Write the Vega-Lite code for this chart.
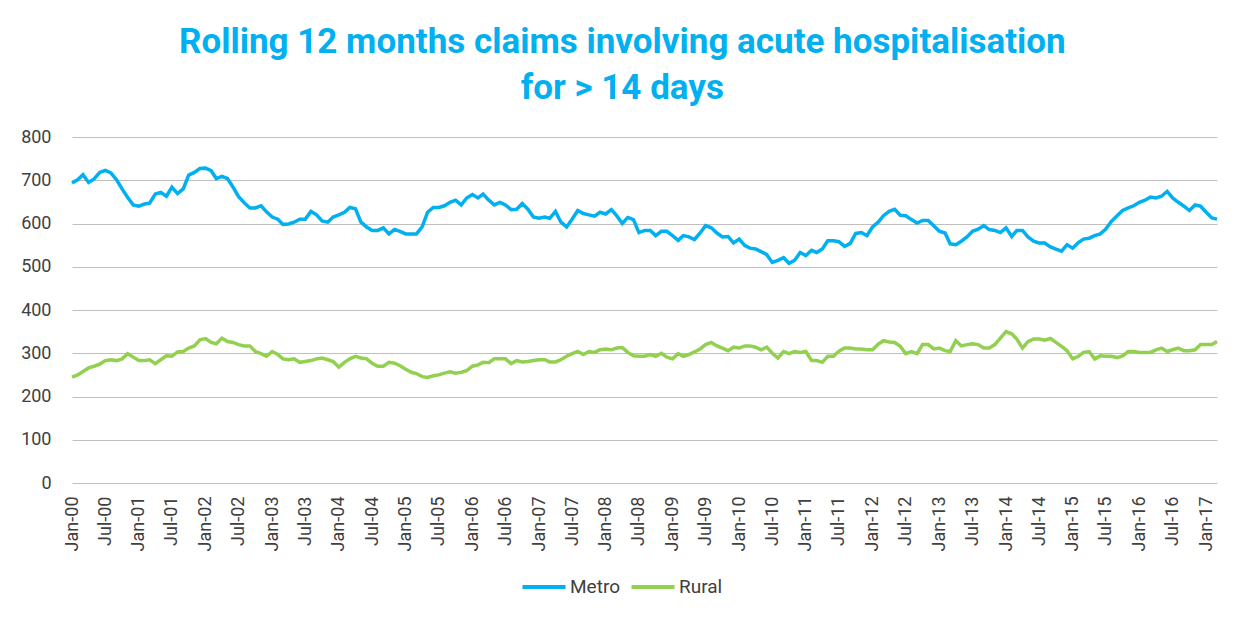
{
"$schema": "https://vega.github.io/schema/vega-lite/v6.json",
"width": 1145,
"height": 346,
"autosize": {"type": "none"},
"padding": {"left": 72, "top": 137, "right": 24, "bottom": 136},
"background": "white",
"title": {"text": ["Rolling 12 months claims involving acute hospitalisation", "for > 14 days"], "font": "Roboto", "fontSize": 35, "fontWeight": "bold", "color": "#00B0F0", "lineHeight": 46, "anchor": "middle", "frame": "bounds", "offset": 22},
"datasets": {
"metro": [
{"date":"2000-01-01","series":"Metro","value":694},{"date":"2000-02-01","series":"Metro","value":701},{"date":"2000-03-01","series":"Metro","value":713},{"date":"2000-04-01","series":"Metro","value":695},{"date":"2000-05-01","series":"Metro","value":703},{"date":"2000-06-01","series":"Metro","value":718},{"date":"2000-07-01","series":"Metro","value":723},{"date":"2000-08-01","series":"Metro","value":717},{"date":"2000-09-01","series":"Metro","value":701},{"date":"2000-10-01","series":"Metro","value":680},{"date":"2000-11-01","series":"Metro","value":660},{"date":"2000-12-01","series":"Metro","value":643},
{"date":"2001-01-01","series":"Metro","value":640},{"date":"2001-02-01","series":"Metro","value":645},{"date":"2001-03-01","series":"Metro","value":647},{"date":"2001-04-01","series":"Metro","value":668},{"date":"2001-05-01","series":"Metro","value":672},{"date":"2001-06-01","series":"Metro","value":663},{"date":"2001-07-01","series":"Metro","value":684},{"date":"2001-08-01","series":"Metro","value":669},{"date":"2001-09-01","series":"Metro","value":680},{"date":"2001-10-01","series":"Metro","value":712},{"date":"2001-11-01","series":"Metro","value":718},{"date":"2001-12-01","series":"Metro","value":727},
{"date":"2002-01-01","series":"Metro","value":728},{"date":"2002-02-01","series":"Metro","value":722},{"date":"2002-03-01","series":"Metro","value":704},{"date":"2002-04-01","series":"Metro","value":709},{"date":"2002-05-01","series":"Metro","value":704},{"date":"2002-06-01","series":"Metro","value":684},{"date":"2002-07-01","series":"Metro","value":662},{"date":"2002-08-01","series":"Metro","value":648},{"date":"2002-09-01","series":"Metro","value":636},{"date":"2002-10-01","series":"Metro","value":636},{"date":"2002-11-01","series":"Metro","value":641},{"date":"2002-12-01","series":"Metro","value":627},
{"date":"2003-01-01","series":"Metro","value":615},{"date":"2003-02-01","series":"Metro","value":610},{"date":"2003-03-01","series":"Metro","value":598},{"date":"2003-04-01","series":"Metro","value":599},{"date":"2003-05-01","series":"Metro","value":603},{"date":"2003-06-01","series":"Metro","value":610},{"date":"2003-07-01","series":"Metro","value":610},{"date":"2003-08-01","series":"Metro","value":628},{"date":"2003-09-01","series":"Metro","value":620},{"date":"2003-10-01","series":"Metro","value":606},{"date":"2003-11-01","series":"Metro","value":603},{"date":"2003-12-01","series":"Metro","value":615},
{"date":"2004-01-01","series":"Metro","value":620},{"date":"2004-02-01","series":"Metro","value":626},{"date":"2004-03-01","series":"Metro","value":637},{"date":"2004-04-01","series":"Metro","value":634},{"date":"2004-05-01","series":"Metro","value":603},{"date":"2004-06-01","series":"Metro","value":592},{"date":"2004-07-01","series":"Metro","value":584},{"date":"2004-08-01","series":"Metro","value":584},{"date":"2004-09-01","series":"Metro","value":590},{"date":"2004-10-01","series":"Metro","value":576},{"date":"2004-11-01","series":"Metro","value":586},{"date":"2004-12-01","series":"Metro","value":582},
{"date":"2005-01-01","series":"Metro","value":576},{"date":"2005-02-01","series":"Metro","value":576},{"date":"2005-03-01","series":"Metro","value":576},{"date":"2005-04-01","series":"Metro","value":592},{"date":"2005-05-01","series":"Metro","value":626},{"date":"2005-06-01","series":"Metro","value":637},{"date":"2005-07-01","series":"Metro","value":637},{"date":"2005-08-01","series":"Metro","value":641},{"date":"2005-09-01","series":"Metro","value":649},{"date":"2005-10-01","series":"Metro","value":654},{"date":"2005-11-01","series":"Metro","value":643},{"date":"2005-12-01","series":"Metro","value":659},
{"date":"2006-01-01","series":"Metro","value":667},{"date":"2006-02-01","series":"Metro","value":659},{"date":"2006-03-01","series":"Metro","value":668},{"date":"2006-04-01","series":"Metro","value":654},{"date":"2006-05-01","series":"Metro","value":643},{"date":"2006-06-01","series":"Metro","value":649},{"date":"2006-07-01","series":"Metro","value":643},{"date":"2006-08-01","series":"Metro","value":632},{"date":"2006-09-01","series":"Metro","value":633},{"date":"2006-10-01","series":"Metro","value":646},{"date":"2006-11-01","series":"Metro","value":633},{"date":"2006-12-01","series":"Metro","value":615},
{"date":"2007-01-01","series":"Metro","value":612},{"date":"2007-02-01","series":"Metro","value":615},{"date":"2007-03-01","series":"Metro","value":612},{"date":"2007-04-01","series":"Metro","value":628},{"date":"2007-05-01","series":"Metro","value":603},{"date":"2007-06-01","series":"Metro","value":592},{"date":"2007-07-01","series":"Metro","value":610},{"date":"2007-08-01","series":"Metro","value":630},{"date":"2007-09-01","series":"Metro","value":623},{"date":"2007-10-01","series":"Metro","value":620},{"date":"2007-11-01","series":"Metro","value":617},{"date":"2007-12-01","series":"Metro","value":626},
{"date":"2008-01-01","series":"Metro","value":622},{"date":"2008-02-01","series":"Metro","value":632},{"date":"2008-03-01","series":"Metro","value":618},{"date":"2008-04-01","series":"Metro","value":600},{"date":"2008-05-01","series":"Metro","value":614},{"date":"2008-06-01","series":"Metro","value":609},{"date":"2008-07-01","series":"Metro","value":579},{"date":"2008-08-01","series":"Metro","value":584},{"date":"2008-09-01","series":"Metro","value":584},{"date":"2008-10-01","series":"Metro","value":572},{"date":"2008-11-01","series":"Metro","value":582},{"date":"2008-12-01","series":"Metro","value":582},
{"date":"2009-01-01","series":"Metro","value":572},{"date":"2009-02-01","series":"Metro","value":561},{"date":"2009-03-01","series":"Metro","value":572},{"date":"2009-04-01","series":"Metro","value":569},{"date":"2009-05-01","series":"Metro","value":563},{"date":"2009-06-01","series":"Metro","value":578},{"date":"2009-07-01","series":"Metro","value":595},{"date":"2009-08-01","series":"Metro","value":590},{"date":"2009-09-01","series":"Metro","value":578},{"date":"2009-10-01","series":"Metro","value":569},{"date":"2009-11-01","series":"Metro","value":570},{"date":"2009-12-01","series":"Metro","value":555},
{"date":"2010-01-01","series":"Metro","value":564},{"date":"2010-02-01","series":"Metro","value":549},{"date":"2010-03-01","series":"Metro","value":543},{"date":"2010-04-01","series":"Metro","value":541},{"date":"2010-05-01","series":"Metro","value":535},{"date":"2010-06-01","series":"Metro","value":528},{"date":"2010-07-01","series":"Metro","value":510},{"date":"2010-08-01","series":"Metro","value":515},{"date":"2010-09-01","series":"Metro","value":521},{"date":"2010-10-01","series":"Metro","value":508},{"date":"2010-11-01","series":"Metro","value":515},{"date":"2010-12-01","series":"Metro","value":533},
{"date":"2011-01-01","series":"Metro","value":526},{"date":"2011-02-01","series":"Metro","value":538},{"date":"2011-03-01","series":"Metro","value":533},{"date":"2011-04-01","series":"Metro","value":541},{"date":"2011-05-01","series":"Metro","value":560},{"date":"2011-06-01","series":"Metro","value":560},{"date":"2011-07-01","series":"Metro","value":558},{"date":"2011-08-01","series":"Metro","value":547},{"date":"2011-09-01","series":"Metro","value":554},{"date":"2011-10-01","series":"Metro","value":577},{"date":"2011-11-01","series":"Metro","value":579},{"date":"2011-12-01","series":"Metro","value":572},
{"date":"2012-01-01","series":"Metro","value":592},{"date":"2012-02-01","series":"Metro","value":603},{"date":"2012-03-01","series":"Metro","value":618},{"date":"2012-04-01","series":"Metro","value":628},{"date":"2012-05-01","series":"Metro","value":633},{"date":"2012-06-01","series":"Metro","value":619},{"date":"2012-07-01","series":"Metro","value":618},{"date":"2012-08-01","series":"Metro","value":609},{"date":"2012-09-01","series":"Metro","value":601},{"date":"2012-10-01","series":"Metro","value":607},{"date":"2012-11-01","series":"Metro","value":607},{"date":"2012-12-01","series":"Metro","value":595},
{"date":"2013-01-01","series":"Metro","value":582},{"date":"2013-02-01","series":"Metro","value":578},{"date":"2013-03-01","series":"Metro","value":553},{"date":"2013-04-01","series":"Metro","value":551},{"date":"2013-05-01","series":"Metro","value":559},{"date":"2013-06-01","series":"Metro","value":569},{"date":"2013-07-01","series":"Metro","value":582},{"date":"2013-08-01","series":"Metro","value":587},{"date":"2013-09-01","series":"Metro","value":595},{"date":"2013-10-01","series":"Metro","value":586},{"date":"2013-11-01","series":"Metro","value":584},{"date":"2013-12-01","series":"Metro","value":579},
{"date":"2014-01-01","series":"Metro","value":590},{"date":"2014-02-01","series":"Metro","value":570},{"date":"2014-03-01","series":"Metro","value":584},{"date":"2014-04-01","series":"Metro","value":584},{"date":"2014-05-01","series":"Metro","value":569},{"date":"2014-06-01","series":"Metro","value":559},{"date":"2014-07-01","series":"Metro","value":555},{"date":"2014-08-01","series":"Metro","value":555},{"date":"2014-09-01","series":"Metro","value":546},{"date":"2014-10-01","series":"Metro","value":541},{"date":"2014-11-01","series":"Metro","value":536},{"date":"2014-12-01","series":"Metro","value":551},
{"date":"2015-01-01","series":"Metro","value":543},{"date":"2015-02-01","series":"Metro","value":556},{"date":"2015-03-01","series":"Metro","value":564},{"date":"2015-04-01","series":"Metro","value":566},{"date":"2015-05-01","series":"Metro","value":572},{"date":"2015-06-01","series":"Metro","value":576},{"date":"2015-07-01","series":"Metro","value":587},{"date":"2015-08-01","series":"Metro","value":605},{"date":"2015-09-01","series":"Metro","value":618},{"date":"2015-10-01","series":"Metro","value":630},{"date":"2015-11-01","series":"Metro","value":636},{"date":"2015-12-01","series":"Metro","value":641},
{"date":"2016-01-01","series":"Metro","value":649},{"date":"2016-02-01","series":"Metro","value":654},{"date":"2016-03-01","series":"Metro","value":661},{"date":"2016-04-01","series":"Metro","value":659},{"date":"2016-05-01","series":"Metro","value":663},{"date":"2016-06-01","series":"Metro","value":674},{"date":"2016-07-01","series":"Metro","value":659},{"date":"2016-08-01","series":"Metro","value":649},{"date":"2016-09-01","series":"Metro","value":640},{"date":"2016-10-01","series":"Metro","value":630},{"date":"2016-11-01","series":"Metro","value":643},{"date":"2016-12-01","series":"Metro","value":640},
{"date":"2017-01-01","series":"Metro","value":626},{"date":"2017-02-01","series":"Metro","value":613},{"date":"2017-03-01","series":"Metro","value":610}
],
"rural": [
{"date":"2000-01-01","series":"Rural","value":245},{"date":"2000-02-01","series":"Rural","value":250},{"date":"2000-03-01","series":"Rural","value":258},{"date":"2000-04-01","series":"Rural","value":266},{"date":"2000-05-01","series":"Rural","value":270},{"date":"2000-06-01","series":"Rural","value":275},{"date":"2000-07-01","series":"Rural","value":283},{"date":"2000-08-01","series":"Rural","value":285},{"date":"2000-09-01","series":"Rural","value":283},{"date":"2000-10-01","series":"Rural","value":287},{"date":"2000-11-01","series":"Rural","value":299},{"date":"2000-12-01","series":"Rural","value":291},
{"date":"2001-01-01","series":"Rural","value":283},{"date":"2001-02-01","series":"Rural","value":283},{"date":"2001-03-01","series":"Rural","value":285},{"date":"2001-04-01","series":"Rural","value":276},{"date":"2001-05-01","series":"Rural","value":285},{"date":"2001-06-01","series":"Rural","value":294},{"date":"2001-07-01","series":"Rural","value":293},{"date":"2001-08-01","series":"Rural","value":303},{"date":"2001-09-01","series":"Rural","value":304},{"date":"2001-10-01","series":"Rural","value":312},{"date":"2001-11-01","series":"Rural","value":317},{"date":"2001-12-01","series":"Rural","value":331},
{"date":"2002-01-01","series":"Rural","value":334},{"date":"2002-02-01","series":"Rural","value":325},{"date":"2002-03-01","series":"Rural","value":322},{"date":"2002-04-01","series":"Rural","value":335},{"date":"2002-05-01","series":"Rural","value":327},{"date":"2002-06-01","series":"Rural","value":325},{"date":"2002-07-01","series":"Rural","value":320},{"date":"2002-08-01","series":"Rural","value":317},{"date":"2002-09-01","series":"Rural","value":317},{"date":"2002-10-01","series":"Rural","value":304},{"date":"2002-11-01","series":"Rural","value":299},{"date":"2002-12-01","series":"Rural","value":293},
{"date":"2003-01-01","series":"Rural","value":304},{"date":"2003-02-01","series":"Rural","value":297},{"date":"2003-03-01","series":"Rural","value":287},{"date":"2003-04-01","series":"Rural","value":285},{"date":"2003-05-01","series":"Rural","value":287},{"date":"2003-06-01","series":"Rural","value":279},{"date":"2003-07-01","series":"Rural","value":281},{"date":"2003-08-01","series":"Rural","value":283},{"date":"2003-09-01","series":"Rural","value":287},{"date":"2003-10-01","series":"Rural","value":289},{"date":"2003-11-01","series":"Rural","value":285},{"date":"2003-12-01","series":"Rural","value":281},
{"date":"2004-01-01","series":"Rural","value":268},{"date":"2004-02-01","series":"Rural","value":279},{"date":"2004-03-01","series":"Rural","value":287},{"date":"2004-04-01","series":"Rural","value":293},{"date":"2004-05-01","series":"Rural","value":289},{"date":"2004-06-01","series":"Rural","value":287},{"date":"2004-07-01","series":"Rural","value":277},{"date":"2004-08-01","series":"Rural","value":270},{"date":"2004-09-01","series":"Rural","value":270},{"date":"2004-10-01","series":"Rural","value":279},{"date":"2004-11-01","series":"Rural","value":277},{"date":"2004-12-01","series":"Rural","value":271},
{"date":"2005-01-01","series":"Rural","value":263},{"date":"2005-02-01","series":"Rural","value":256},{"date":"2005-03-01","series":"Rural","value":253},{"date":"2005-04-01","series":"Rural","value":246},{"date":"2005-05-01","series":"Rural","value":244},{"date":"2005-06-01","series":"Rural","value":248},{"date":"2005-07-01","series":"Rural","value":250},{"date":"2005-08-01","series":"Rural","value":254},{"date":"2005-09-01","series":"Rural","value":257},{"date":"2005-10-01","series":"Rural","value":254},{"date":"2005-11-01","series":"Rural","value":256},{"date":"2005-12-01","series":"Rural","value":260},
{"date":"2006-01-01","series":"Rural","value":270},{"date":"2006-02-01","series":"Rural","value":273},{"date":"2006-03-01","series":"Rural","value":279},{"date":"2006-04-01","series":"Rural","value":278},{"date":"2006-05-01","series":"Rural","value":287},{"date":"2006-06-01","series":"Rural","value":287},{"date":"2006-07-01","series":"Rural","value":287},{"date":"2006-08-01","series":"Rural","value":276},{"date":"2006-09-01","series":"Rural","value":283},{"date":"2006-10-01","series":"Rural","value":280},{"date":"2006-11-01","series":"Rural","value":281},{"date":"2006-12-01","series":"Rural","value":283},
{"date":"2007-01-01","series":"Rural","value":285},{"date":"2007-02-01","series":"Rural","value":285},{"date":"2007-03-01","series":"Rural","value":280},{"date":"2007-04-01","series":"Rural","value":280},{"date":"2007-05-01","series":"Rural","value":285},{"date":"2007-06-01","series":"Rural","value":293},{"date":"2007-07-01","series":"Rural","value":299},{"date":"2007-08-01","series":"Rural","value":304},{"date":"2007-09-01","series":"Rural","value":297},{"date":"2007-10-01","series":"Rural","value":304},{"date":"2007-11-01","series":"Rural","value":302},{"date":"2007-12-01","series":"Rural","value":308},
{"date":"2008-01-01","series":"Rural","value":310},{"date":"2008-02-01","series":"Rural","value":308},{"date":"2008-03-01","series":"Rural","value":312},{"date":"2008-04-01","series":"Rural","value":313},{"date":"2008-05-01","series":"Rural","value":302},{"date":"2008-06-01","series":"Rural","value":294},{"date":"2008-07-01","series":"Rural","value":293},{"date":"2008-08-01","series":"Rural","value":293},{"date":"2008-09-01","series":"Rural","value":297},{"date":"2008-10-01","series":"Rural","value":293},{"date":"2008-11-01","series":"Rural","value":300},{"date":"2008-12-01","series":"Rural","value":291},
{"date":"2009-01-01","series":"Rural","value":287},{"date":"2009-02-01","series":"Rural","value":299},{"date":"2009-03-01","series":"Rural","value":293},{"date":"2009-04-01","series":"Rural","value":297},{"date":"2009-05-01","series":"Rural","value":303},{"date":"2009-06-01","series":"Rural","value":310},{"date":"2009-07-01","series":"Rural","value":320},{"date":"2009-08-01","series":"Rural","value":325},{"date":"2009-09-01","series":"Rural","value":317},{"date":"2009-10-01","series":"Rural","value":312},{"date":"2009-11-01","series":"Rural","value":306},{"date":"2009-12-01","series":"Rural","value":314},
{"date":"2010-01-01","series":"Rural","value":312},{"date":"2010-02-01","series":"Rural","value":317},{"date":"2010-03-01","series":"Rural","value":317},{"date":"2010-04-01","series":"Rural","value":314},{"date":"2010-05-01","series":"Rural","value":308},{"date":"2010-06-01","series":"Rural","value":314},{"date":"2010-07-01","series":"Rural","value":300},{"date":"2010-08-01","series":"Rural","value":289},{"date":"2010-09-01","series":"Rural","value":304},{"date":"2010-10-01","series":"Rural","value":299},{"date":"2010-11-01","series":"Rural","value":304},{"date":"2010-12-01","series":"Rural","value":302},
{"date":"2011-01-01","series":"Rural","value":304},{"date":"2011-02-01","series":"Rural","value":283},{"date":"2011-03-01","series":"Rural","value":283},{"date":"2011-04-01","series":"Rural","value":279},{"date":"2011-05-01","series":"Rural","value":293},{"date":"2011-06-01","series":"Rural","value":293},{"date":"2011-07-01","series":"Rural","value":305},{"date":"2011-08-01","series":"Rural","value":312},{"date":"2011-09-01","series":"Rural","value":312},{"date":"2011-10-01","series":"Rural","value":310},{"date":"2011-11-01","series":"Rural","value":310},{"date":"2011-12-01","series":"Rural","value":308},
{"date":"2012-01-01","series":"Rural","value":308},{"date":"2012-02-01","series":"Rural","value":321},{"date":"2012-03-01","series":"Rural","value":329},{"date":"2012-04-01","series":"Rural","value":326},{"date":"2012-05-01","series":"Rural","value":325},{"date":"2012-06-01","series":"Rural","value":316},{"date":"2012-07-01","series":"Rural","value":299},{"date":"2012-08-01","series":"Rural","value":304},{"date":"2012-09-01","series":"Rural","value":299},{"date":"2012-10-01","series":"Rural","value":320},{"date":"2012-11-01","series":"Rural","value":320},{"date":"2012-12-01","series":"Rural","value":310},
{"date":"2013-01-01","series":"Rural","value":312},{"date":"2013-02-01","series":"Rural","value":306},{"date":"2013-03-01","series":"Rural","value":304},{"date":"2013-04-01","series":"Rural","value":329},{"date":"2013-05-01","series":"Rural","value":317},{"date":"2013-06-01","series":"Rural","value":320},{"date":"2013-07-01","series":"Rural","value":322},{"date":"2013-08-01","series":"Rural","value":320},{"date":"2013-09-01","series":"Rural","value":312},{"date":"2013-10-01","series":"Rural","value":312},{"date":"2013-11-01","series":"Rural","value":320},{"date":"2013-12-01","series":"Rural","value":335},
{"date":"2014-01-01","series":"Rural","value":350},{"date":"2014-02-01","series":"Rural","value":345},{"date":"2014-03-01","series":"Rural","value":333},{"date":"2014-04-01","series":"Rural","value":312},{"date":"2014-05-01","series":"Rural","value":327},{"date":"2014-06-01","series":"Rural","value":333},{"date":"2014-07-01","series":"Rural","value":333},{"date":"2014-08-01","series":"Rural","value":330},{"date":"2014-09-01","series":"Rural","value":334},{"date":"2014-10-01","series":"Rural","value":325},{"date":"2014-11-01","series":"Rural","value":316},{"date":"2014-12-01","series":"Rural","value":306},
{"date":"2015-01-01","series":"Rural","value":287},{"date":"2015-02-01","series":"Rural","value":293},{"date":"2015-03-01","series":"Rural","value":302},{"date":"2015-04-01","series":"Rural","value":304},{"date":"2015-05-01","series":"Rural","value":287},{"date":"2015-06-01","series":"Rural","value":294},{"date":"2015-07-01","series":"Rural","value":293},{"date":"2015-08-01","series":"Rural","value":293},{"date":"2015-09-01","series":"Rural","value":290},{"date":"2015-10-01","series":"Rural","value":294},{"date":"2015-11-01","series":"Rural","value":304},{"date":"2015-12-01","series":"Rural","value":304},
{"date":"2016-01-01","series":"Rural","value":302},{"date":"2016-02-01","series":"Rural","value":302},{"date":"2016-03-01","series":"Rural","value":302},{"date":"2016-04-01","series":"Rural","value":308},{"date":"2016-05-01","series":"Rural","value":312},{"date":"2016-06-01","series":"Rural","value":304},{"date":"2016-07-01","series":"Rural","value":308},{"date":"2016-08-01","series":"Rural","value":312},{"date":"2016-09-01","series":"Rural","value":306},{"date":"2016-10-01","series":"Rural","value":306},{"date":"2016-11-01","series":"Rural","value":308},{"date":"2016-12-01","series":"Rural","value":320},
{"date":"2017-01-01","series":"Rural","value":320},{"date":"2017-02-01","series":"Rural","value":320},{"date":"2017-03-01","series":"Rural","value":327}
]
},
"layer": [
{"data": {"name": "metro"}, "mark": {"type": "line", "strokeWidth": 3.5}, "encoding": {}},
{"data": {"name": "rural"}, "mark": {"type": "line", "strokeWidth": 3.5}, "encoding": {}}
],
"encoding": {
"x": {"field": "date", "type": "temporal", "scale": {"type": "utc", "domain": [{"year": 2000, "month": 1, "date": 1, "utc": true}, {"year": 2017, "month": 3, "date": 1, "utc": true}]}, "axis": {"title": null, "labelExpr": "utcFormat(datum.value, '%b-%y')", "tickCount": {"interval": "month", "step": 6}, "labelAngle": 270, "labelFont": "Roboto", "labelFontSize": 18, "labelColor": "#404040", "labelPadding": 13, "ticks": false, "tickSize": 0, "domain": false, "grid": false, "labelOverlap": false, "labelFlush": false}},
"y": {"field": "value", "type": "quantitative", "scale": {"domain": [0, 800], "nice": false}, "axis": {"title": null, "values": [0, 100, 200, 300, 400, 500, 600, 700, 800], "domain": false, "ticks": false, "tickSize": 0, "labelPadding": 21, "labelFont": "Roboto", "labelFontSize": 18, "labelColor": "#404040", "gridColor": "#BFBFBF", "gridWidth": 1}},
"color": {"field": "series", "type": "nominal", "scale": {"domain": ["Metro", "Rural"], "range": ["#00B0F0", "#92D050"]}, "legend": {"title": null, "orient": "none", "legendX": 448, "legendY": 426, "direction": "horizontal", "symbolType": "stroke", "symbolSize": 1850, "symbolStrokeWidth": 4, "labelFont": "Roboto", "labelFontSize": 19, "labelColor": "#404040", "columnPadding": 3, "labelOffset": 2}}
},
"config": {"view": {"stroke": null}}
}
